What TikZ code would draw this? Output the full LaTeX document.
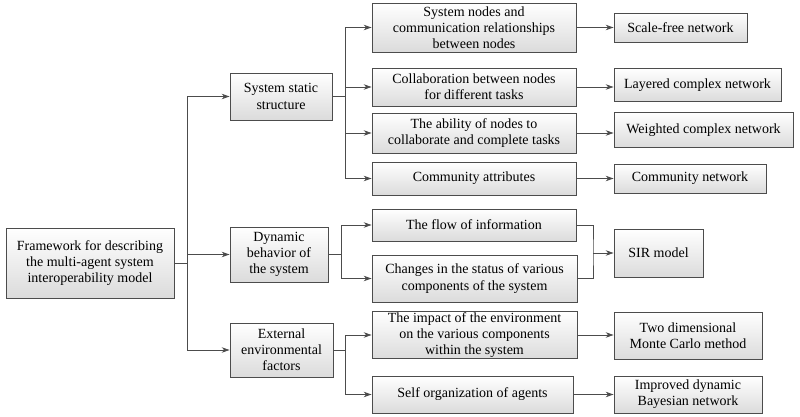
\documentclass[tikz,border=0pt]{standalone}
\usepackage{fontspec}
\setmainfont{Liberation Serif}
\usetikzlibrary{arrows.meta}

\begin{document}
\begin{tikzpicture}[x=1pt,y=-1pt,
  box/.style={draw=black!70,line width=0.8pt,top color=white,bottom color=black!14,
    align=center,inner sep=1pt,font=\fontsize{14}{16.2}\selectfont},
  link/.style={draw=black!70,line width=0.8pt},
  arr/.style={link,-{Stealth[length=8pt,width=5.5pt]}}]
\useasboundingbox (0,0) rectangle (800,417);
%\draw[help lines, color=gray!30, dashed] (0,0) grid[step=50] (800,417);
% first and second level
\node[box,minimum width=168,minimum height=70] (frame) at (90,263) {Framework for describing\\the multi-agent system\\interoperability model};
\node[box,minimum width=102,minimum height=47] (static) at (281,96.5) {System static\\structure};
\node[box,minimum width=98,minimum height=55] (dynamic) at (279,254.5) {Dynamic\\behavior of\\the system};
\node[box,minimum width=103,minimum height=54] (extern) at (281.5,350) {External\\environmental\\factors};
% third level
\node[box,minimum width=204,minimum height=49] (nodes) at (474,27.5) {System nodes and\\communication relationships\\between nodes};
\node[box,minimum width=204,minimum height=38] (collab) at (474,87) {Collaboration between nodes\\for different tasks};
\node[box,minimum width=204,minimum height=40] (ability) at (474,133) {The ability of nodes to\\collaborate and complete tasks};
\node[box,minimum width=204,minimum height=33] (commattr) at (474,178.5) {Community attributes};
\node[box,minimum width=204,minimum height=32] (flow) at (474,225) {The flow of information};
\node[box,minimum width=205,minimum height=47] (status) at (474.5,278.5) {Changes in the status of various\\components of the system};
\node[box,minimum width=205,minimum height=46] (impact) at (474.5,335) {The impact of the environment\\on the various components\\within the system};
\node[box,minimum width=201,minimum height=37] (selforg) at (472.5,394.5) {Self organization of agents};
% models
\node[box,minimum width=133,minimum height=29] (scalefree) at (680.5,27.5) {Scale-free network};
\node[box,minimum width=167,minimum height=33] (layered) at (697.5,85) {Layered complex network};
\node[box,minimum width=179,minimum height=35] (weighted) at (703.5,130) {Weighted complex network};
\node[box,minimum width=152,minimum height=29] (commnet) at (690,178.5) {Community network};
\node[box,minimum width=89,minimum height=48] (sir) at (658.5,253) {SIR model};
\node[box,minimum width=148,minimum height=47] (montecarlo) at (688,335.5) {Two dimensional\\Monte Carlo method};
\node[box,minimum width=148,minimum height=37] (bayes) at (688,394.5) {Improved dynamic\\Bayesian network};
% connectors
\coordinate (trunk) at (187,263);
\draw[link] (frame.east) -- (trunk);
\foreach \n in {static,dynamic,extern}
  \draw[arr] (trunk) |- (\n.west);
\foreach \n in {nodes,collab,ability,commattr}
  \draw[arr] (static.east) -- ++(13,0) |- (\n.west);
\foreach \n in {flow,status}
  \draw[arr] (dynamic.east) -- ++(13,0) |- (\n.west);
\foreach \n in {impact,selforg}
  \draw[arr] (extern.east) -- ++(12,0) |- (\n.west);
\draw[arr] (nodes.east) -- (nodes.east -| scalefree.west);
\draw[arr] (collab.east) -- (collab.east -| layered.west);
\draw[arr] (ability.east) -- (ability.east -| weighted.west);
\draw[arr] (commattr.east) -- (commattr.east -| commnet.west);
\coordinate (merge) at (593,253);
\draw[link] (flow.east) -| (merge) |- (status.east);
\draw[arr] (merge) -- (sir.west);
\draw[arr] (impact.east) -- (impact.east -| montecarlo.west);
\draw[arr] (selforg.east) -- (selforg.east -| bayes.west);
\end{tikzpicture}
\end{document}
